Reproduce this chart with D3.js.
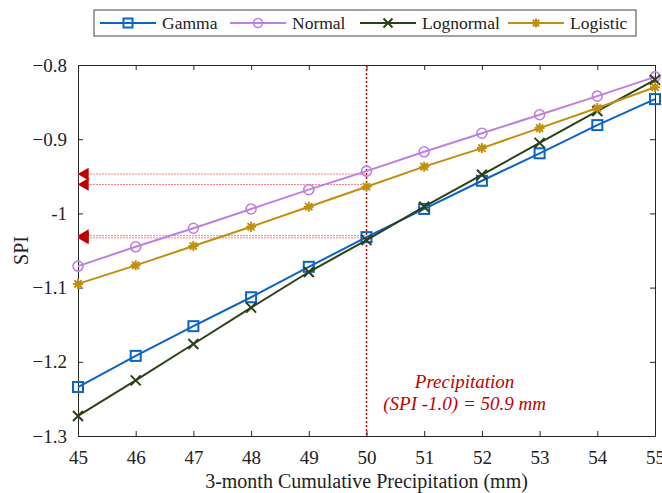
<!DOCTYPE html>
<html>
<head>
<meta charset="utf-8">
<script src="https://cdn.jsdelivr.net/npm/d3@7"></script>
<style>
  body { margin: 0; background: #fff; font-family: 'Liberation Serif'; }
</style>
</head>
<body>
<div class="chart"></div>
<script>
// precipitation (mm) on the x axis
var precip = [45, 46, 47, 48, 49, 50, 51, 52, 53, 54, 55];

// SPI per distribution
var gamma     = [-1.234, -1.192, -1.152, -1.113, -1.072, -1.032, -0.994, -0.956, -0.919, -0.881, -0.846];
var normal    = [-1.071, -1.045, -1.020, -0.994, -0.968, -0.943, -0.917, -0.892, -0.867, -0.842, -0.816];
var lognormal = [-1.273, -1.225, -1.176, -1.127, -1.079, -1.036, -0.991, -0.948, -0.905, -0.862, -0.820];
var logistic  = [-1.095, -1.070, -1.044, -1.018, -0.991, -0.964, -0.937, -0.912, -0.885, -0.858, -0.830];

var seriesNames = ["Gamma", "Normal", "Lognormal", "Logistic"];

var xTicks = [45, 46, 47, 48, 49, 50, 51, 52, 53, 54, 55];
var yTicks = [-0.8, -0.9, -1, -1.1, -1.2, -1.3];

// reading guides at x = 50
var markX = 50;
var guideLevels = [-0.947, -0.961, -1.030, -1.033];

var FONT = "'Liberation Serif'";

var svgWidth = 662, svgHeight = 493;
var margin = { top: 65, right: 7, bottom: 57, left: 78 };
var width = svgWidth - margin.left - margin.right;
var height = svgHeight - margin.top - margin.bottom;

var svg = d3.select(".chart").append("svg")
  .attr("width", svgWidth)
  .attr("height", svgHeight)
  .style("font-family", FONT);

var chartGroup = svg.append("g")
  .attr("transform", `translate(${margin.left}, ${margin.top})`);

var x = d3.scaleLinear().domain([45, 55]).range([0, width]);
var y = d3.scaleLinear().domain([-1.3, -0.8]).range([height, 0]);

var colors = {
  Gamma: "#0b64c4",
  Normal: "#bd80e0",
  Lognormal: "#2b4218",
  Logistic: "#c08f0c"
};
var dataMap = { Gamma: gamma, Normal: normal, Lognormal: lognormal, Logistic: logistic };

// axes, ticks pointing inward
var fmtY = d => (d === -1 ? "-1" : d3.format(".1f")(d));
var axisStyle = function (g) {
  g.attr("font-family", null).attr("font-size", 19);
  g.select(".domain").attr("stroke", "#262626");
  g.selectAll(".tick line").attr("stroke", "#262626");
  g.selectAll(".tick text").attr("fill", "#222").style("font-family", FONT);
};

chartGroup.append("g")
  .attr("transform", `translate(0, ${height})`)
  .call(d3.axisBottom(x).tickValues(xTicks).tickSizeInner(-5).tickSizeOuter(0).tickPadding(15))
  .call(axisStyle);

chartGroup.append("g")
  .call(d3.axisLeft(y).tickValues(yTicks).tickFormat(fmtY).tickSizeInner(-5).tickSizeOuter(0).tickPadding(11))
  .call(axisStyle);

chartGroup.append("g")
  .call(d3.axisTop(x).tickValues(xTicks).tickFormat("").tickSizeInner(-5).tickSizeOuter(0))
  .call(axisStyle);

chartGroup.append("g")
  .attr("transform", `translate(${width}, 0)`)
  .call(d3.axisRight(y).tickValues(yTicks).tickFormat("").tickSizeInner(-5).tickSizeOuter(0))
  .call(axisStyle);

// guide lines
var guideG = chartGroup.append("g");
guideLevels.forEach(function (v) {
  guideG.append("line")
    .attr("x1", 0).attr("x2", x(markX))
    .attr("y1", y(v)).attr("y2", y(v))
    .attr("stroke", "#f08080")
    .attr("stroke-width", 1)
    .attr("stroke-dasharray", "2,1");
  guideG.append("path")
    .attr("d", d3.symbol().type(d3.symbolTriangle).size(70)())
    .attr("transform", `translate(${x(45) + 7}, ${y(v)}) rotate(-90)`)
    .attr("fill", "#c00000");
});

guideG.append("line")
  .attr("x1", x(markX)).attr("x2", x(markX))
  .attr("y1", 0).attr("y2", height)
  .attr("stroke", "#cc0000")
  .attr("stroke-width", 1.5)
  .attr("stroke-dasharray", "2,2");

// markers
function drawMarker(g, name, size) {
  var s = size / 2;
  if (name === "Gamma") {
    g.append("rect").attr("x", -s).attr("y", -s).attr("width", size).attr("height", size)
      .attr("fill", "none").attr("stroke", colors[name]).attr("stroke-width", 2);
  } else if (name === "Normal") {
    g.append("circle").attr("r", s).attr("fill", "none")
      .attr("stroke", colors[name]).attr("stroke-width", 1.6);
  } else if (name === "Lognormal") {
    g.append("path").attr("d", `M${-s},${-s}L${s},${s}M${-s},${s}L${s},${-s}`)
      .attr("stroke", colors[name]).attr("stroke-width", 2);
  } else {
    var d = s * 0.72;
    g.append("path")
      .attr("d", `M${-s},0L${s},0M0,${-s}L0,${s}M${-d},${-d}L${d},${d}M${-d},${d}L${d},${-d}`)
      .attr("stroke", colors[name]).attr("stroke-width", 2);
  }
}

var line = d3.line().x(d => x(d[0])).y(d => y(d[1]));

seriesNames.forEach(function (name) {
  var pts = precip.map((p, i) => [p, dataMap[name][i]]);
  chartGroup.append("path")
    .datum(pts)
    .attr("d", line)
    .attr("fill", "none")
    .attr("stroke", colors[name])
    .attr("stroke-width", 2);
  chartGroup.append("g").selectAll("g")
    .data(pts)
    .join("g")
    .attr("transform", d => `translate(${x(d[0])}, ${y(d[1])})`)
    .each(function () { drawMarker(d3.select(this), name, 10); });
});

// annotation
var note = chartGroup.append("text")
  .attr("text-anchor", "middle")
  .attr("fill", "#c00000")
  .style("font-family", FONT)
  .style("font-style", "italic")
  .style("font-size", "19px");
note.append("tspan").attr("x", x(51.7)).attr("y", y(-1.235)).text("Precipitation");
note.append("tspan").attr("x", x(51.7)).attr("y", y(-1.265)).text("(SPI -1.0) = 50.9 mm");

// axis labels
svg.append("text")
  .attr("x", margin.left + width / 2)
  .attr("y", 488)
  .attr("text-anchor", "middle")
  .attr("fill", "#222")
  .style("font-family", FONT)
  .style("font-size", "20px")
  .text("3-month Cumulative Precipitation (mm)");

svg.append("text")
  .attr("transform", "rotate(-90)")
  .attr("x", -(margin.top + height / 2))
  .attr("y", 28)
  .attr("text-anchor", "middle")
  .attr("fill", "#222")
  .style("font-family", FONT)
  .style("font-size", "20px")
  .text("SPI");

// legend
var legend = svg.append("g").attr("transform", "translate(94, 10)");
legend.append("rect")
  .attr("width", 542).attr("height", 26)
  .attr("fill", "#fff")
  .attr("stroke", "#444")
  .attr("stroke-width", 1);

var legendX = [6, 136, 266, 414];
seriesNames.forEach(function (name, i) {
  var lg = legend.append("g").attr("transform", `translate(${legendX[i]}, 13)`);
  lg.append("line").attr("x1", 0).attr("x2", 56).attr("y1", 0).attr("y2", 0)
    .attr("stroke", colors[name]).attr("stroke-width", 2);
  drawMarker(lg.append("g").attr("transform", "translate(28, 0)"), name, 9);
  lg.append("text")
    .attr("x", 62).attr("y", 6)
    .attr("fill", "#222")
    .style("font-family", FONT)
    .style("font-size", "17.5px")
    .text(name);
});
</script>
</body>
</html>
